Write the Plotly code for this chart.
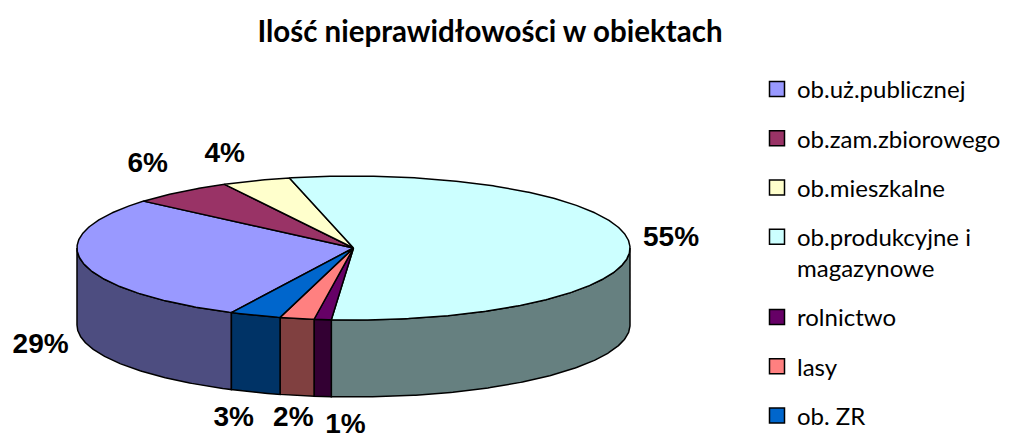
import numpy as np
import plotly.graph_objects as go

# ---- data ----
categories = ["ob.uż.publicznej", "ob.zam.zbiorowego", "ob.mieszkalne",
              "ob.produkcyjne i<br>magazynowe", "rolnictwo", "lasy", "ob. ZR"]
values = [29, 6, 4, 55, 1, 2, 3]
title_text = "Ilość nieprawidłowości w obiektach"

# ---- style ----
top_colors = ["#9999FF", "#993366", "#FFFFCC", "#CCFFFF", "#660066", "#FF8080", "#0066CC"]
side_colors = ["#4D4D80", "#4D1A33", "#808066", "#668080", "#330033", "#804040", "#003366"]
W, H = 1013, 439
cx, cy, a, b, depth = 353.5, 248.0, 276.5, 72.0, 77.0
start_angle = 206.2          # degrees, clockwise from 12 o'clock
label_kx, label_ky = 1.17, 1.4
label_dx = [4, -4, -15, -5, 28, 6, -5]
label_dy = [1, -4, 1, -1, 1, -5, 0]

total = float(sum(values))
bounds = start_angle + 360.0 * np.cumsum([0] + values) / total


def ell(theta_deg, dy=0.0):
    t = np.radians(theta_deg)
    return cx + a * np.sin(t), cy - b * np.cos(t) + dy


fig = go.Figure()
edge = dict(color="black", width=1.5)

# side walls (front half only)
for i, v in enumerate(values):
    s, e = bounds[i], bounds[i + 1]
    for k in range(-1, 3):
        lo, hi = max(s, 90 + 360 * k), min(e, 270 + 360 * k)
        if hi > lo:
            th = np.linspace(lo, hi, max(3, int((hi - lo) * 2)))
            xt, yt = ell(th)
            xb, yb = ell(th[::-1], depth)
            xs = np.concatenate([xt, xb, xt[:1]])
            ys = np.concatenate([yt, yb, yt[:1]])
            fig.add_trace(go.Scatter(x=xs, y=ys, mode="lines", fill="toself",
                                     fillcolor=side_colors[i], line=edge,
                                     showlegend=False, hoverinfo="skip"))

# top wedges
for i, v in enumerate(values):
    s, e = bounds[i], bounds[i + 1]
    th = np.linspace(s, e, max(3, int((e - s) * 2)))
    xa, ya = ell(th)
    xs = np.concatenate([[cx], xa, [cx]])
    ys = np.concatenate([[cy], ya, [cy]])
    fig.add_trace(go.Scatter(x=xs, y=ys, mode="lines", fill="toself",
                             fillcolor=top_colors[i], line=edge,
                             showlegend=False, hoverinfo="skip",
                             name=categories[i]))

# percentage labels
lx, ly, lt = [], [], []
for i, v in enumerate(values):
    m = np.radians((bounds[i] + bounds[i + 1]) / 2)
    x = cx + a * label_kx * np.sin(m) + label_dx[i]
    y = cy - b * label_ky * np.cos(m) + (depth if np.cos(m) < 0 else 0) + label_dy[i]
    lx.append(x)
    ly.append(y)
    lt.append(f"{round(100 * v / total)}%")
fig.add_trace(go.Scatter(x=lx, y=ly, text=lt, mode="text", textposition="middle center",
                         textfont=dict(family="Liberation Sans", size=28, color="black",
                                       weight="bold"),
                         showlegend=False, hoverinfo="skip"))

# legend entries
for i, c in enumerate(categories):
    fig.add_trace(go.Scatter(x=[None], y=[None], mode="markers", name=c,
                             legendgroup=str(i),
                             marker=dict(symbol="square", size=15, color=top_colors[i],
                                         line=dict(color="black", width=1.5))))

fig.update_layout(
    width=W, height=H, autosize=False,
    margin=dict(l=0, r=0, t=0, b=0, autoexpand=False),
    paper_bgcolor="white", plot_bgcolor="white",
    xaxis=dict(range=[0, W], visible=False, fixedrange=True),
    yaxis=dict(range=[H, 0], visible=False, fixedrange=True),
    title=dict(text=title_text, x=490 / W, xanchor="center", y=1 - 32 / H, yanchor="middle",
               font=dict(family="Lato", size=29.5, color="black", weight="bold")),
    legend=dict(x=757 / W, y=1 - 67 / H, xanchor="left", yanchor="top",
                font=dict(family="Lato", size=24, color="black"),
                tracegroupgap=15, valign="top", bgcolor="rgba(0,0,0,0)"),
    showlegend=True,
)

fig.write_html("out.html", config={"displayModeBar": False},
               post_script="document.body.style.margin='0';")
